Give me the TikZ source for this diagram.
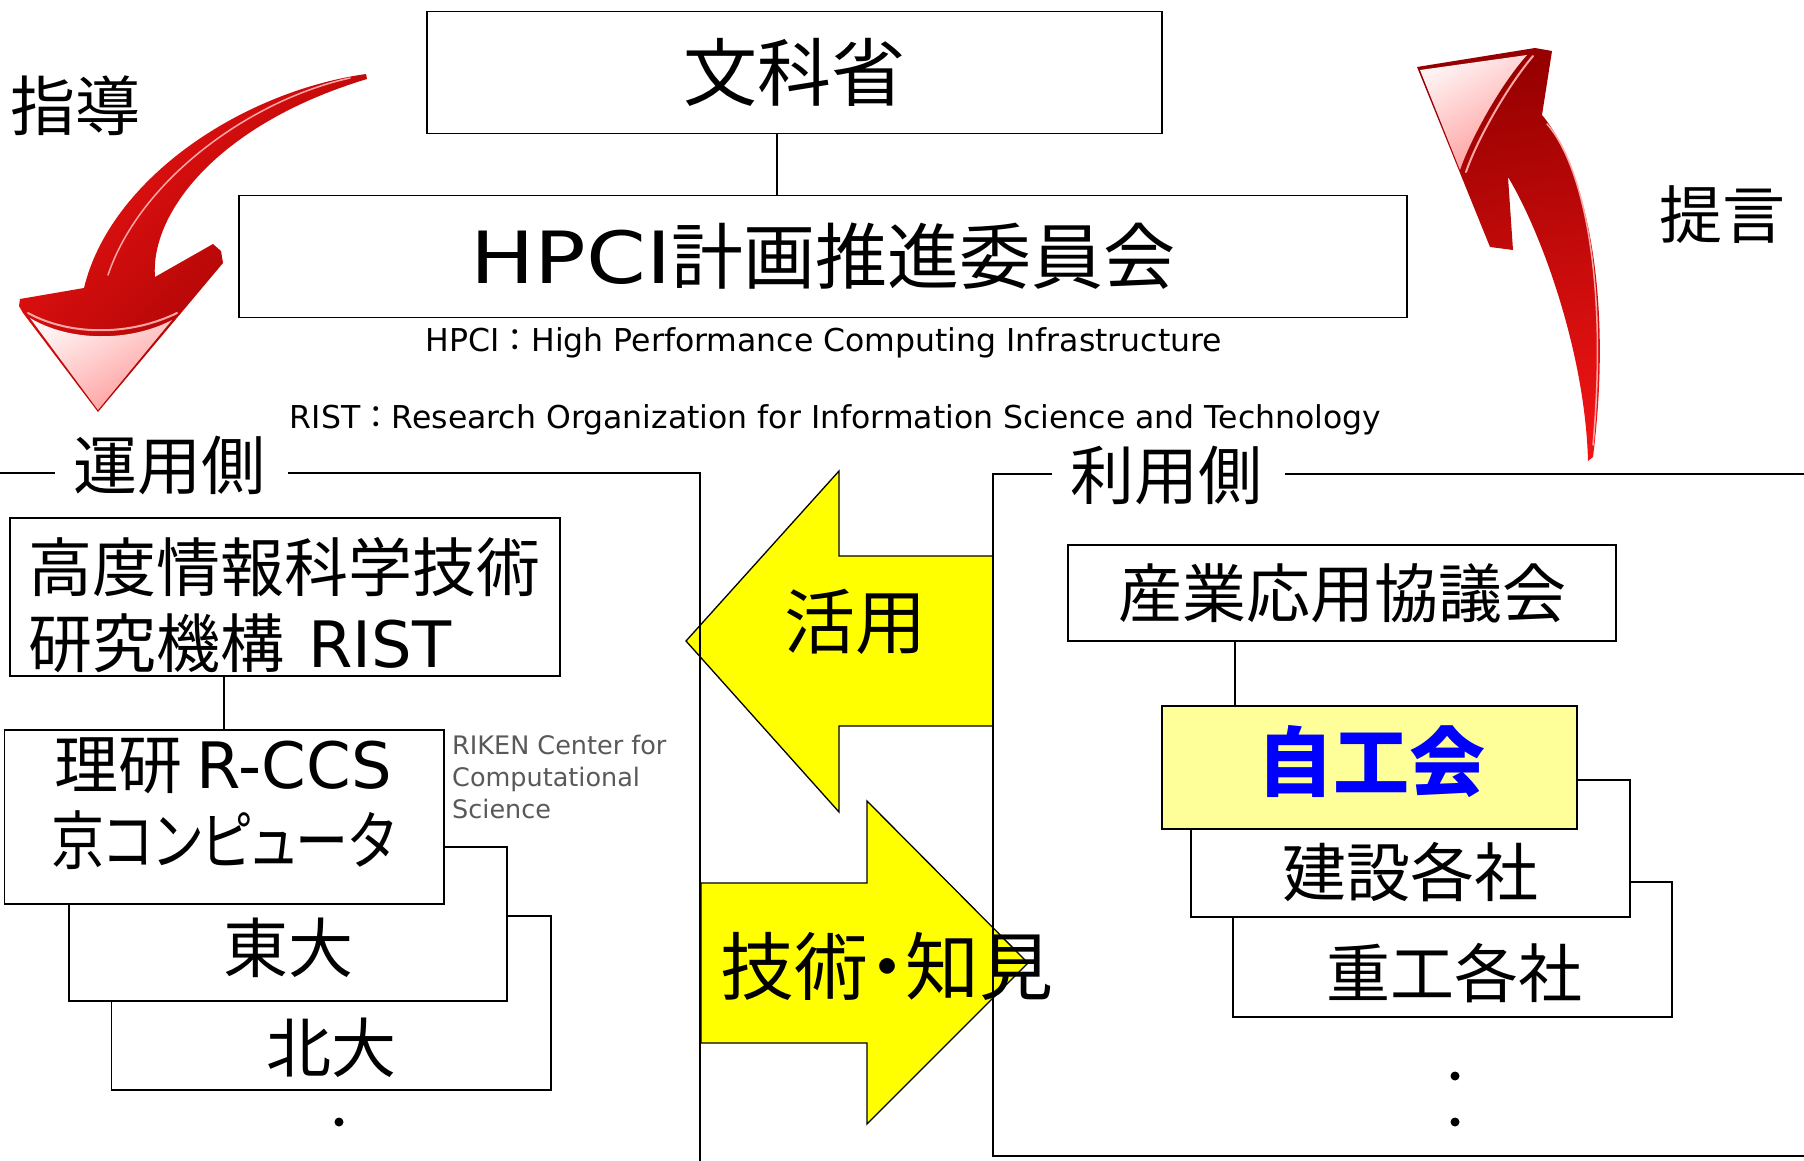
\documentclass[tikz,border=0pt]{standalone}
\usepackage{graphicx}
\usepackage{fontspec}
\setmainfont{DejaVu Sans}
\newfontfamily\jp{Noto Sans CJK JP}

\definecolor{redbright}{RGB}{240,20,20}
\definecolor{reddark}{RGB}{150,0,0}
\definecolor{arrowyellow}{RGB}{255,255,0}
\definecolor{paleyellow}{RGB}{255,255,153}
\definecolor{jikoblue}{RGB}{0,0,255}
\definecolor{notegray}{RGB}{89,89,89}

\begin{document}
\begin{tikzpicture}[x=1pt,y=-1pt,
  box/.style={draw, line width=1.5pt, fill=white, inner sep=0pt},
  conn/.style={line width=1.3pt},
  bracket/.style={line width=1.5pt},
  jt/.style={font=\jp\fontsize{#1}{#1}\selectfont, inner sep=0pt},
  jtb/.style={font=\jp\bfseries\fontsize{#1}{#1}\selectfont, inner sep=0pt},
  lt/.style={font=\fontsize{#1}{#1}\selectfont, inner sep=0pt},
  flow/.style={draw, line width=1.3pt, fill=arrowyellow},
  dotn/.style={circle, fill=black, inner sep=0pt, minimum size=9pt},
  gloss/.style={draw=white!65!red, line width=2pt, line cap=round},
  facet/.style={shading=axis, top color=white!95!red, bottom color=white!60!red, shading angle=30},
]
\useasboundingbox (0,0) rectangle (1804,1161);

% ---- curved red arrows ----
% down-left arrow (guidance)
\path[shading=axis, top color=redbright, bottom color=reddark, shading angle=45]
  (366,74) .. controls (240,92) and (110,180) .. (84,288)
  -- (20,299) -- (19,306) -- (23,313) -- (98,412)
  -- (223,263) -- (221,251) -- (213,244) -- (155,277)
  .. controls (150,215) and (215,125) .. (367,79) -- cycle;
\path[facet] (30,318) .. controls (70,342) and (130,342) .. (172,320) -- (98,410) -- cycle;
\draw[gloss] (28,313) .. controls (70,336) and (130,336) .. (177,313);
\draw[gloss, line width=1.5pt] (350,78) .. controls (250,100) and (140,180) .. (108,275);

% up arrow (proposal)
\path[shading=axis, left color=reddark, right color=redbright, shading angle=10]
  (1588,461) .. controls (1585,350) and (1540,230) .. (1508,177)
  -- (1513,250) -- (1490,247) -- (1417,67) -- (1535,48) -- (1552,51) -- (1542,115)
  .. controls (1580,160) and (1615,280) .. (1593,457) -- cycle;
\path[facet] (1420,70) -- (1527,55) .. controls (1500,85) and (1470,140) .. (1460,170) -- cycle;
\draw[gloss] (1533,56) .. controls (1506,88) and (1476,142) .. (1466,172);
\draw[gloss, line width=1.5pt] (1547,124) .. controls (1583,165) and (1608,280) .. (1593,445);

\node[jt=65] (shido) at (75,106) {指導};
\node[jt=63] (teigen) at (1722,215) {提言};

% ---- top of the organisation ----
\node[box, minimum width=735pt, minimum height=122pt, jt=74] (mext) at (794.5,72.5) {文科省};
\node[box, minimum width=1168pt, minimum height=122pt, jt=72] (hpci) at (823,256.5)
  {\scalebox{1.19}[1]{\rmfamily HPCI}計画推進委員会};
\coordinate (cx1) at (777,0);
\draw[conn] (cx1 |- mext.south) -- (cx1 |- hpci.north);

\node[lt=31.5] (hpcinote) at (824,343) {HPCI{\jp ：}High Performance Computing Infrastructure};
\node[lt=31.5] (ristnote) at (835.5,420) {RIST{\jp ：}Research Organization for Information Science and Technology};

% ---- exchange arrows ----
\draw[flow] (686,641) -- (839,471) -- (839,556) -- (993,556) -- (993,726) -- (839,726) -- (839,812) -- cycle;
\draw[flow] (701,883) -- (867,883) -- (867,801) -- (1028,963) -- (867,1124) -- (867,1043) -- (701,1043) -- cycle;

% ---- operator side ----
\node[jt=64] (unyo) at (169.5,465) {運用側};
\draw[bracket] (0,473) -- (55,473);
\draw[bracket] (288,473) -- (700,473) -- (700,1163);

\node[box, minimum width=550pt, minimum height=158pt] (rist) at (285,597) {};
\node[jt=64, anchor=west] (rist1) at (28,567) {高度情報科学技術};
\node[jt=64, anchor=west] (rist2) at (28,643) {研究機構\hspace{24pt}{\rmfamily RIST}};

\node[box, minimum width=439.4pt, minimum height=174pt] (hokudai) at (331.3,1003) {};
\node[jt=65] (hokudaiT) at (331,1048) {北大};
\node[box, minimum width=438pt, minimum height=154pt] (todai) at (288,924) {};
\node[jt=65] (todaiT) at (288,948) {東大};
\node[box, minimum width=439.4pt, minimum height=174pt] (rccs) at (224.3,817) {};
\node[jt=64] (rccs1) at (223,766) {理研 {\rmfamily R-CCS}};
\node[jt=64] (rccs2) at (223,840) {\scalebox{0.83}[1]{\addfontfeatures{RawFeature=+palt}京コンピュータ}};
\coordinate (cx2) at (224,0);
\draw[conn] (cx2 |- rist.south) -- (cx2 |- rccs.north);

\node[font=\fontsize{25.5}{32}\selectfont, text=notegray, align=left, anchor=west, inner sep=0pt] (riken) at (452,777)
  {RIKEN Center for\\Computational\\Science};
\node[dotn] (dotL) at (339,1122) {};

% ---- user side ----
\node[jt=64] (riyo) at (1166.5,475) {利用側};
\draw[bracket] (1052,474) -- (993,474) -- (993,1156) -- (1806,1156);
\draw[bracket] (1285,474) -- (1806,474);

\node[box, minimum width=548pt, minimum height=96pt, jt=64] (sangyo) at (1342,593) {産業応用協議会};
\node[box, minimum width=439pt, minimum height=135pt] (juko) at (1452.5,949.5) {};
\node[jt=64] (jukoT) at (1454,973) {重工各社};
\node[box, minimum width=439pt, minimum height=137pt] (kensetsu) at (1410.5,848.5) {};
\node[jt=64] (kensetsuT) at (1410,872) {建設各社};
\node[box, fill=paleyellow, minimum width=415pt, minimum height=123pt] (jiko) at (1369.5,767.5) {};
\node[jtb=76, text=jikoblue] (jikoT) at (1371,762) {自工会};
\coordinate (cx3) at (1235,0);
\draw[conn] (cx3 |- sangyo.south) -- (cx3 |- jiko.north);
\node[dotn] (dotR1) at (1455,1076) {};
\node[dotn] (dotR2) at (1455,1122) {};

% ---- arrow captions ----
\node[jt=71] (katsuyo) at (855,622) {活用};
\node[jt=74] (gijutsu) at (887,966) {\addfontfeatures{RawFeature=+palt}技術・知見};
\end{tikzpicture}
\end{document}
